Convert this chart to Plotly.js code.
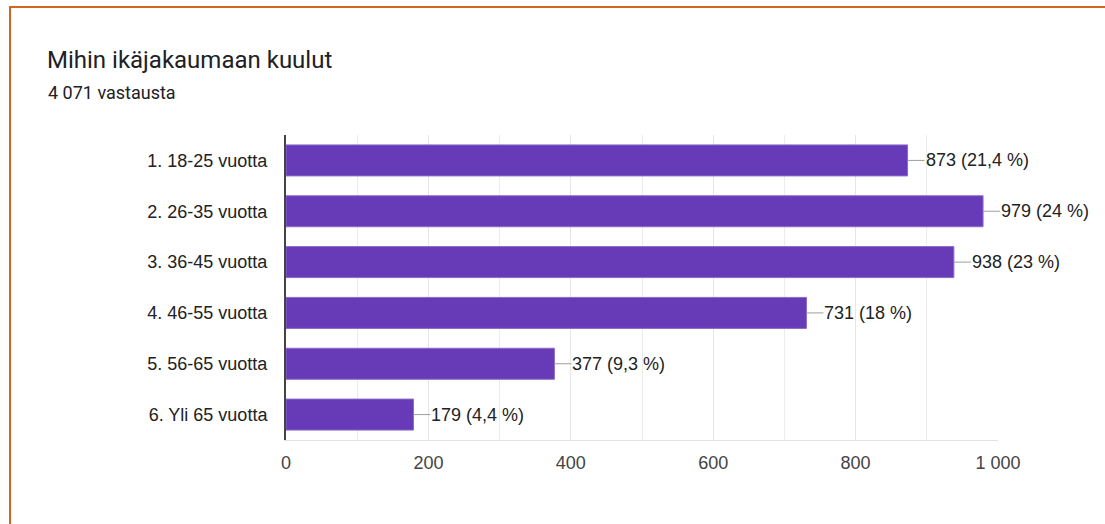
<!DOCTYPE html>
<html>
<head>
<meta charset="utf-8">
<script src="https://cdn.plot.ly/plotly-3.0.1.min.js"></script>
<style>
  html, body { margin: 0; padding: 0; background: #fff; }
  #wrap { position: relative; width: 1105px; height: 524px; overflow: hidden; }
  #chart { position: absolute; left: 0; top: 0; width: 1105px; height: 524px; }
  #frame { position: absolute; left: 9px; top: 6px; width: 1200px; height: 600px;
           border-top: 2px solid #d2651f; border-left: 2px solid #d2651f; pointer-events: none; }
</style>
</head>
<body>
<div id="wrap">
  <div id="chart"></div>
  <div id="frame"></div>
</div>
<script>
const chartTitle = "Mihin ikäjakaumaan kuulut";
const subtitle = "4 071 vastausta";
const categories = ["1. 18-25 vuotta", "2. 26-35 vuotta", "3. 36-45 vuotta", "4. 46-55 vuotta", "5. 56-65 vuotta", "6. Yli 65 vuotta"];
const counts = [873, 979, 938, 731, 377, 179];
const percents = ["21,4", "24", "23", "18", "9,3", "4,4"];
const xTicks = [0, 200, 400, 600, 800, 1000];

const labelFont = { family: "Arial, 'Liberation Sans', Helvetica, sans-serif", size: 18, color: "#222222" };

const trace = {
  type: "bar",
  orientation: "h",
  x: counts,
  y: categories,
  width: 0.61,
  marker: { color: "#673ab7", line: { color: "#8a6bc9", width: 1 } },
  hoverinfo: "none"
};

const valueAnnotations = counts.map((c, i) => ({
  x: c, y: categories[i], xref: "x", yref: "y",
  text: c + " (" + percents[i] + " %)",
  showarrow: true, arrowhead: 0, arrowwidth: 1, arrowcolor: "#9e9e9e",
  ax: 17, ay: 0, xanchor: "left", yanchor: "middle",
  standoff: 0, startstandoff: 0, borderpad: 0,
  font: labelFont
}));

const layout = {
  width: 1105, height: 524,
  margin: { l: 286, r: 107, t: 135, b: 84 },
  paper_bgcolor: "#ffffff", plot_bgcolor: "#ffffff",
  separators: ", ",
  showlegend: false,
  title: {
    text: chartTitle,
    xref: "container", yref: "container",
    x: 47 / 1105, xanchor: "left",
    y: 1 - 60 / 524, yanchor: "middle",
    font: { family: "Roboto, Arial, sans-serif", size: 24, color: "#202124" }
  },
  xaxis: {
    range: [0, 1000],
    tickvals: xTicks,
    tickformat: ",d",
    showgrid: true, gridcolor: "#e6e6e6", gridwidth: 1,
    minor: { dtick: 100, tick0: 0, showgrid: true, gridcolor: "#ececec", gridwidth: 1 },
    zeroline: false,
    showline: true, linecolor: "#e3e3e3", linewidth: 1,
    ticks: "", ticklabelstandoff: 6,
    tickfont: { family: "Arial, 'Liberation Sans', Helvetica, sans-serif", size: 18, color: "#444444" },
    fixedrange: true
  },
  yaxis: {
    categoryorder: "array", categoryarray: categories,
    autorange: "reversed",
    range: [5.5, -0.5],
    showgrid: false, zeroline: false,
    showline: true, linecolor: "#444444", linewidth: 2,
    ticks: "", ticklabelstandoff: 13,
    tickfont: labelFont,
    fixedrange: true
  },
  annotations: [
    {
      text: subtitle, xref: "paper", yref: "paper",
      x: (46 - 286) / 712, y: (440 - 93) / 305,
      xanchor: "left", yanchor: "middle", showarrow: false,
      font: { family: "Roboto, Arial, sans-serif", size: 18, color: "#202124" }
    }
  ].concat(valueAnnotations)
};

Plotly.newPlot("chart", [trace], layout, { displayModeBar: false, staticPlot: true });
</script>
</body>
</html>
